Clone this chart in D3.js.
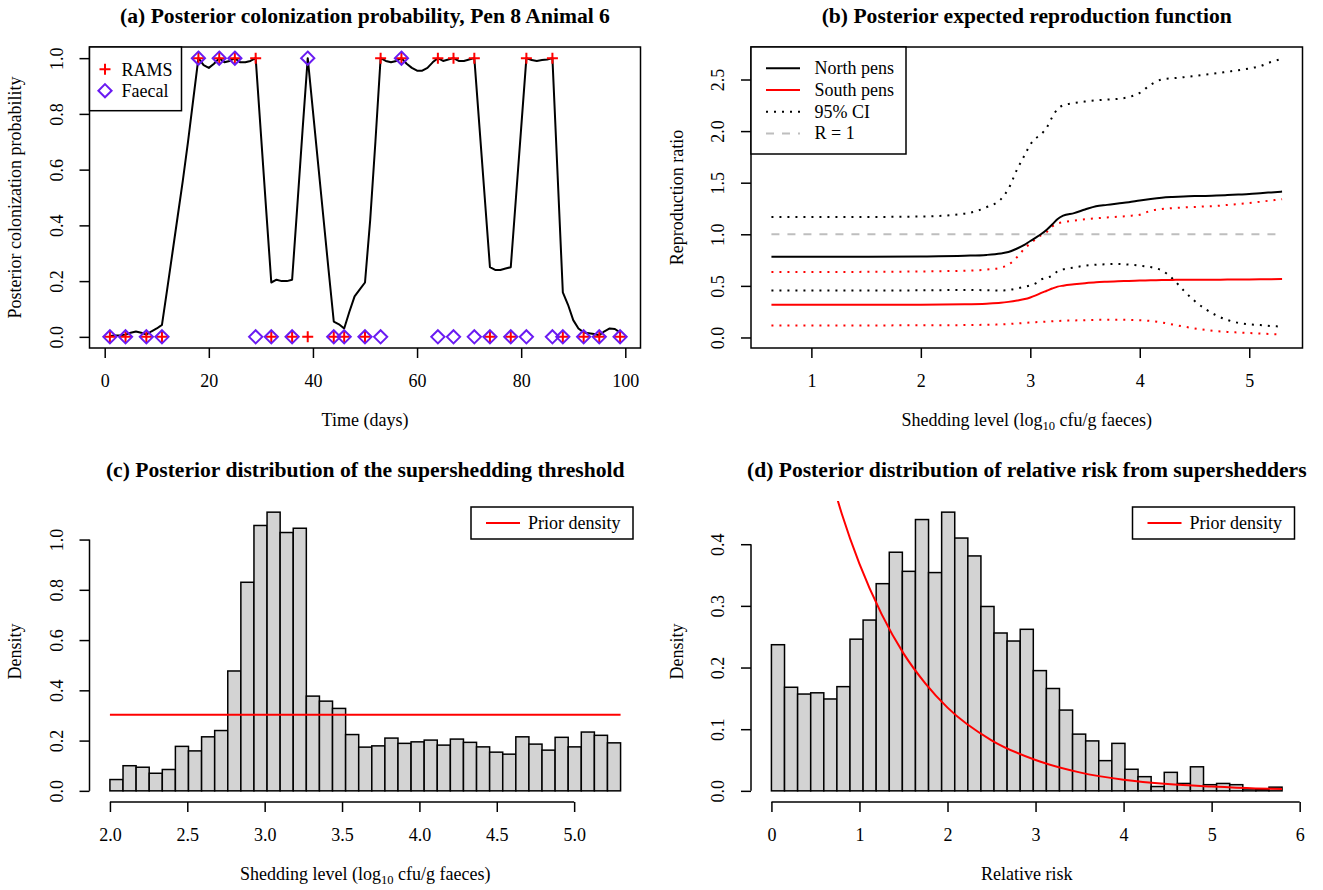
<!DOCTYPE html>
<html><head><meta charset="utf-8">
<script src="https://cdn.jsdelivr.net/npm/d3@7"></script>
<style>
body{margin:0;background:#fff}
svg{display:block}
text{font-family:"Liberation Serif","Times New Roman",Times,serif;fill:#000}
</style>
</head><body>
<svg id="chart" width="1323" height="890"></svg>
<script>
// ---------------- DATA ----------------
// (a) posterior colonization probability by day
const probDays = [1,2,3,4,5,6,7,8,9,10,11,12,13,14,15,16,17,18,19,20,21,22,23,24,25,26,27,28,29,30,31,32,33,34,35,36,37,38,39,40,41,42,43,44,45,46,47,48,49,50,51,52,53,54,55,56,57,58,59,60,61,62,63,64,65,66,67,68,69,70,71,72,73,74,75,76,77,78,79,80,81,82,83,84,85,86,87,88,89,90,91,92,93,94,95,96,97,98,99];
const probValues = [0.003,0.005,0.006,0.008,0.015,0.019,0.015,0.008,0.02,0.03,0.043,0.17,0.30,0.43,0.56,0.70,0.85,1.0,0.975,0.965,0.98,1.0,0.985,0.99,1.0,0.985,0.985,0.99,1.0,0.73,0.46,0.195,0.205,0.2,0.2,0.205,0.47,0.74,1.0,0.81,0.62,0.43,0.24,0.055,0.045,0.03,0.09,0.145,0.17,0.195,0.42,0.70,1.0,0.99,0.985,0.99,1.0,0.98,0.965,0.955,0.955,0.965,0.985,1.0,0.99,0.995,1.0,0.99,0.99,0.995,1.0,0.75,0.50,0.25,0.24,0.24,0.245,0.25,0.50,0.75,1.0,0.993,0.99,0.993,0.995,1.0,0.58,0.16,0.115,0.06,0.03,0.016,0.013,0.01,0.006,0.02,0.03,0.028,0.015];
const sampleDays = [1,4,8,11,18,22,25,29,32,36,39,44,46,50,53,57,64,67,71,74,78,81,86,88,92,95,99];
const ramsResult = [0,0,0,0,1,1,1,1,0,0,0,0,0,0,1,1,1,1,1,0,0,1,1,0,0,0,0];
const faecalResult = [0,0,0,0,1,1,1,0,0,0,1,0,0,0,0,1,0,0,0,0,0,0,0,0,0,0,0];
const aXTicks = [0,20,40,60,80,100];
const aYTicks = [0,0.2,0.4,0.6,0.8,1.0];

// (b) reproduction function
const shedX = [0.635,1.0,1.5,2.0,2.4,2.6,2.73,2.8,2.88,2.95,3.0,3.05,3.1,3.15,3.2,3.25,3.3,3.4,3.5,3.6,3.7,3.8,3.9,4.0,4.1,4.2,4.3,4.4,4.5,4.6,4.7,4.8,4.9,5.0,5.1,5.2,5.3];
const northMean = [0.782,0.782,0.782,0.785,0.792,0.8,0.814,0.828,0.862,0.9,0.935,0.968,1.003,1.045,1.095,1.148,1.18,1.205,1.24,1.272,1.285,1.298,1.31,1.328,1.343,1.355,1.362,1.367,1.37,1.372,1.375,1.38,1.385,1.39,1.398,1.406,1.414];
const northUpper = [1.168,1.168,1.168,1.172,1.2,1.262,1.339,1.44,1.63,1.77,1.87,1.93,1.97,2.035,2.135,2.215,2.25,2.272,2.287,2.298,2.306,2.312,2.33,2.37,2.45,2.5,2.512,2.522,2.535,2.548,2.56,2.575,2.59,2.607,2.63,2.67,2.7];
const northLower = [0.455,0.455,0.455,0.457,0.46,0.458,0.455,0.46,0.475,0.492,0.505,0.525,0.562,0.578,0.6,0.642,0.66,0.678,0.696,0.705,0.71,0.712,0.706,0.696,0.682,0.65,0.57,0.456,0.355,0.275,0.214,0.17,0.142,0.128,0.12,0.111,0.105];
const southMean = [0.317,0.317,0.317,0.318,0.322,0.328,0.336,0.345,0.358,0.372,0.388,0.408,0.432,0.453,0.475,0.493,0.502,0.515,0.526,0.535,0.54,0.544,0.548,0.551,0.554,0.557,0.558,0.559,0.559,0.56,0.56,0.561,0.562,0.563,0.564,0.565,0.566];
const southUpper = [0.634,0.634,0.636,0.64,0.647,0.658,0.676,0.705,0.78,0.865,0.912,0.952,0.993,1.022,1.075,1.105,1.117,1.133,1.145,1.155,1.163,1.17,1.178,1.19,1.228,1.245,1.254,1.26,1.265,1.27,1.275,1.284,1.293,1.303,1.315,1.328,1.34];
const southLower = [0.117,0.117,0.117,0.118,0.12,0.123,0.126,0.13,0.136,0.141,0.145,0.148,0.151,0.154,0.157,0.16,0.162,0.165,0.168,0.171,0.172,0.172,0.17,0.167,0.16,0.145,0.126,0.106,0.088,0.073,0.061,0.054,0.048,0.043,0.038,0.033,0.03];
const bXTicks = [1,2,3,4,5];
const bYTicks = [0,0.5,1.0,1.5,2.0,2.5];

// (c) supershedding threshold histogram (39 equal bins on [2.0, 5.3])
const cRange = [2.0, 5.3];
const cDensity = [0.045,0.10,0.094,0.07,0.085,0.177,0.159,0.215,0.24,0.477,0.83,1.056,1.109,1.028,1.045,0.377,0.357,0.328,0.224,0.174,0.179,0.21,0.189,0.195,0.202,0.182,0.206,0.193,0.175,0.154,0.146,0.215,0.186,0.162,0.213,0.175,0.234,0.221,0.191];
const cPrior = 0.303;
const cXTicks = [2.0,2.5,3.0,3.5,4.0,4.5,5.0];
const cYTicks = [0,0.2,0.4,0.6,0.8,1.0];

// (d) relative risk histogram (39 equal bins on [0, 5.8])
const dRange = [0, 5.8];
const dDensity = [0.237,0.168,0.157,0.159,0.149,0.169,0.246,0.277,0.336,0.387,0.356,0.44,0.354,0.452,0.41,0.381,0.299,0.256,0.243,0.262,0.195,0.166,0.131,0.092,0.081,0.049,0.077,0.035,0.023,0.007,0.030,0.012,0.039,0.010,0.012,0.010,0.003,0.0025,0.006];
const dPriorX = [0.6,0.8,1.0,1.25,1.5,1.75,2.0,2.5,3.0,3.5,4.0,4.5,5.0,5.5,5.8];
const dPriorY = [0.549,0.449,0.368,0.287,0.223,0.174,0.135,0.082,0.050,0.030,0.018,0.011,0.007,0.004,0.003];
const dXTicks = [0,1,2,3,4,5,6];
const dYTicks = [0,0.1,0.2,0.3,0.4];

// ---------------- STYLE ----------------
const TXT = 18, TITLE = 21.6, TICK = 10;
const RED = "#ff0000", PURPLE = "#6a1bf2", GRAYFILL = "#d3d3d3", DASHGRAY = "#bebebe";
const svg = d3.select("#chart");

const regA = {l:89.5, r:640.5, t:47, b:348};
const regB = {l:751, r:1302.5, t:47, b:348};
const regC = {l:89.5, r:641, t:501, b:802};
const regD = {l:751, r:1302.5, t:501, b:802};

function fmt1(d){ return d3.format(".1f")(d); }

function xAxis(g, x, reg, ticks, f, lineSpan){
  const ax = g.append("g").attr("transform", `translate(0,${reg.b})`)
    .call(d3.axisBottom(x).tickValues(ticks).tickSize(TICK).tickFormat(f));
  ax.select(".domain").remove();
  ax.selectAll(".tick line").attr("stroke","#000").attr("stroke-width",1.5);
  ax.selectAll(".tick text").attr("y",39).attr("dy",null)
    .style("font-size",TXT+"px").style("font-family",'"Liberation Serif",serif');
  if(lineSpan){
    g.append("line").attr("x1",x(ticks[0])).attr("x2",x(ticks[ticks.length-1]))
      .attr("y1",reg.b).attr("y2",reg.b).attr("stroke","#000").attr("stroke-width",1.5);
  }
}
function yAxis(g, y, reg, ticks, f, lineSpan){
  const ax = g.append("g").attr("transform", `translate(${reg.l},0)`)
    .call(d3.axisLeft(y).tickValues(ticks).tickSize(TICK).tickFormat(f));
  ax.select(".domain").remove();
  ax.selectAll(".tick line").attr("stroke","#000").attr("stroke-width",1.5);
  ax.selectAll(".tick text").attr("x",null).attr("dy",null).attr("text-anchor","middle")
    .attr("transform","translate(-27,0) rotate(-90)")
    .style("font-size",TXT+"px").style("font-family",'"Liberation Serif",serif');
  if(lineSpan){
    g.append("line").attr("y1",y(ticks[0])).attr("y2",y(ticks[ticks.length-1]))
      .attr("x1",reg.l).attr("x2",reg.l).attr("stroke","#000").attr("stroke-width",1.5);
  }
}
function box(g, reg){
  g.append("rect").attr("x",reg.l).attr("y",reg.t).attr("width",reg.r-reg.l).attr("height",reg.b-reg.t)
    .attr("fill","none").attr("stroke","#000").attr("stroke-width",1.5);
}
function titles(g, reg, main, ylab, xlabParts){
  const cx = (reg.l+reg.r)/2;
  g.append("text").attr("x",cx).attr("y",reg.t-24).attr("text-anchor","middle")
    .style("font-size",TITLE+"px").style("font-weight","bold").text(main);
  g.append("text").attr("transform",`translate(${reg.l-68.5},${(reg.t+reg.b)/2}) rotate(-90)`)
    .attr("text-anchor","middle").style("font-size",TXT+"px").text(ylab);
  const t = g.append("text").attr("x",cx).attr("y",reg.b+78).attr("text-anchor","middle").style("font-size",TXT+"px");
  if(typeof xlabParts === "string"){ t.text(xlabParts); }
  else {
    t.append("tspan").text(xlabParts[0]);
    t.append("tspan").attr("dy",4).style("font-size",(TXT*0.7)+"px").text(xlabParts[1]);
    t.append("tspan").attr("dy",-4).text(xlabParts[2]);
  }
}
function clip(id, reg){
  svg.append("clipPath").attr("id",id).append("rect")
    .attr("x",reg.l).attr("y",reg.t).attr("width",reg.r-reg.l).attr("height",reg.b-reg.t);
}
const shedLab = ["Shedding level (log","10"," cfu/g faeces)"];

// ---------------- PANEL A ----------------
{
  const g = svg.append("g");
  const x = d3.scaleLinear().domain([-2.92,102.92]).range([regA.l,regA.r]);
  const y = d3.scaleLinear().domain([-0.04,1.04]).range([regA.b,regA.t]);
  const pts = probDays.map((d,i)=>[d,probValues[i]]);
  g.append("path").datum(pts).attr("fill","none").attr("stroke","#000").attr("stroke-width",2)
    .attr("stroke-linejoin","round")
    .attr("d", d3.line().x(d=>x(d[0])).y(d=>y(d[1])));
  const plus = "M-5.5,0H5.5M0,-5.5V5.5";
  const diamond = "M0,-6.6L6.6,0L0,6.6L-6.6,0Z";
  g.selectAll(".rams").data(sampleDays).enter().append("path")
    .attr("transform",(d,i)=>`translate(${x(d)},${y(ramsResult[i])})`)
    .attr("d",plus).attr("stroke",RED).attr("stroke-width",2).attr("fill","none");
  g.selectAll(".faec").data(sampleDays).enter().append("path")
    .attr("transform",(d,i)=>`translate(${x(d)},${y(faecalResult[i])})`)
    .attr("d",diamond).attr("stroke",PURPLE).attr("stroke-width",2).attr("fill","none");
  box(g, regA);
  xAxis(g, x, regA, aXTicks, d3.format("d"), false);
  yAxis(g, y, regA, aYTicks, fmt1, false);
  titles(g, regA, "(a) Posterior colonization probability, Pen 8 Animal 6", "Posterior colonization probability", "Time (days)");
  // legend
  const lg = g.append("g");
  lg.append("rect").attr("x",regA.l).attr("y",regA.t).attr("width",92).attr("height",63.7)
    .attr("fill","#fff").attr("stroke","#000").attr("stroke-width",1.5);
  lg.append("path").attr("transform",`translate(${regA.l+15.5},69.3)`).attr("d",plus)
    .attr("stroke",RED).attr("stroke-width",2).attr("fill","none");
  lg.append("path").attr("transform",`translate(${regA.l+15.5},90.7)`).attr("d",diamond)
    .attr("stroke",PURPLE).attr("stroke-width",2).attr("fill","none");
  lg.append("text").attr("x",regA.l+32).attr("y",75.5).style("font-size",TXT+"px").text("RAMS");
  lg.append("text").attr("x",regA.l+32).attr("y",96.9).style("font-size",TXT+"px").text("Faecal");
}

// ---------------- PANEL B ----------------
{
  const g = svg.append("g");
  const x = d3.scaleLinear().domain([0.4484,5.4866]).range([regB.l,regB.r]);
  const y = d3.scaleLinear().domain([-0.102,2.815]).range([regB.b,regB.t]);
  const line = d3.line().x(d=>x(d[0])).y(d=>y(d[1])).curve(d3.curveMonotoneX);
  const mk = arr => shedX.map((v,i)=>[v,arr[i]]);
  const series = [
    {v:[[shedX[0],1],[shedX[shedX.length-1],1]], c:DASHGRAY, dash:"8,8"},
    {v:mk(northUpper), c:"#000", dash:"2,6"},
    {v:mk(northLower), c:"#000", dash:"2,6"},
    {v:mk(southUpper), c:RED, dash:"2,6"},
    {v:mk(southLower), c:RED, dash:"2,6"},
    {v:mk(southMean), c:RED, dash:null},
    {v:mk(northMean), c:"#000", dash:null}
  ];
  series.forEach(s=>{
    g.append("path").datum(s.v).attr("fill","none").attr("stroke",s.c).attr("stroke-width",2)
      .attr("stroke-dasharray",s.dash).attr("d",line);
  });
  box(g, regB);
  xAxis(g, x, regB, bXTicks, d3.format("d"), false);
  yAxis(g, y, regB, bYTicks, fmt1, false);
  titles(g, regB, "(b) Posterior expected reproduction function", "Reproduction ratio", shedLab);
  const lg = g.append("g");
  lg.append("rect").attr("x",regB.l).attr("y",regB.t).attr("width",155).attr("height",107)
    .attr("fill","#fff").attr("stroke","#000").attr("stroke-width",1.5);
  const items = [["North pens","#000",null],["South pens",RED,null],["95% CI","#000","2,6"],["R = 1",DASHGRAY,"8,8"]];
  items.forEach((it,i)=>{
    const cy = 68.3 + i*21.7;
    lg.append("line").attr("x1",regB.l+15).attr("x2",regB.l+49).attr("y1",cy).attr("y2",cy)
      .attr("stroke",it[1]).attr("stroke-width",2).attr("stroke-dasharray",it[2]);
    lg.append("text").attr("x",regB.l+63.5).attr("y",cy+6).style("font-size",TXT+"px").text(it[0]);
  });
}

// ---------------- HISTOGRAM helper ----------------
function histPanel(reg, range, dens, xdom, ydom, xt, yt, xf, main, xlab, clipId, priorFn){
  const g = svg.append("g");
  const x = d3.scaleLinear().domain(xdom).range([reg.l,reg.r]);
  const y = d3.scaleLinear().domain(ydom).range([reg.b,reg.t]);
  const n = dens.length, w = (range[1]-range[0])/n;
  g.selectAll("rect.bar").data(dens).enter().append("rect").attr("class","bar")
    .attr("x",(d,i)=>x(range[0]+i*w)).attr("width",(d,i)=>x(range[0]+(i+1)*w)-x(range[0]+i*w))
    .attr("y",d=>y(d)).attr("height",d=>y(0)-y(d))
    .attr("fill",GRAYFILL).attr("stroke","#000").attr("stroke-width",1.5);
  clip(clipId, reg);
  priorFn(g, x, y);
  xAxis(g, x, reg, xt, xf, true);
  yAxis(g, y, reg, yt, fmt1, true);
  titles(g, reg, main, "Density", xlab);
  // legend top-right
  const bw = 162, bh = 32, bx = reg.r-8-bw, by = reg.t+6;
  g.append("rect").attr("x",bx).attr("y",by).attr("width",bw).attr("height",bh)
    .attr("fill","#fff").attr("stroke","#000").attr("stroke-width",1.5);
  g.append("line").attr("x1",bx+15).attr("x2",bx+49).attr("y1",by+16).attr("y2",by+16)
    .attr("stroke",RED).attr("stroke-width",2);
  g.append("text").attr("x",bx+57).attr("y",by+22).style("font-size",TXT+"px").text("Prior density");
}

// ---------------- PANEL C ----------------
histPanel(regC, cRange, cDensity, [1.868,5.432], [-0.04436,1.1534], cXTicks, cYTicks, fmt1,
  "(c) Posterior distribution of the supershedding threshold", shedLab, "clipC",
  (g,x,y)=>{
    g.append("line").attr("x1",x(cRange[0])).attr("x2",x(cRange[1])).attr("y1",y(cPrior)).attr("y2",y(cPrior))
      .attr("stroke",RED).attr("stroke-width",2);
  });

// ---------------- PANEL D ----------------
histPanel(regD, dRange, dDensity, [-0.232,6.032], [-0.01808,0.47008], dXTicks, dYTicks, d3.format("d"),
  "(d) Posterior distribution of relative risk from supershedders", "Relative risk", "clipD",
  (g,x,y)=>{
    const pts = dPriorX.map((v,i)=>[v,dPriorY[i]]);
    g.append("path").datum(pts).attr("clip-path","url(#clipD)").attr("fill","none")
      .attr("stroke",RED).attr("stroke-width",2)
      .attr("d", d3.line().x(d=>x(d[0])).y(d=>y(d[1])).curve(d3.curveMonotoneX));
  });
</script>
</body></html>
